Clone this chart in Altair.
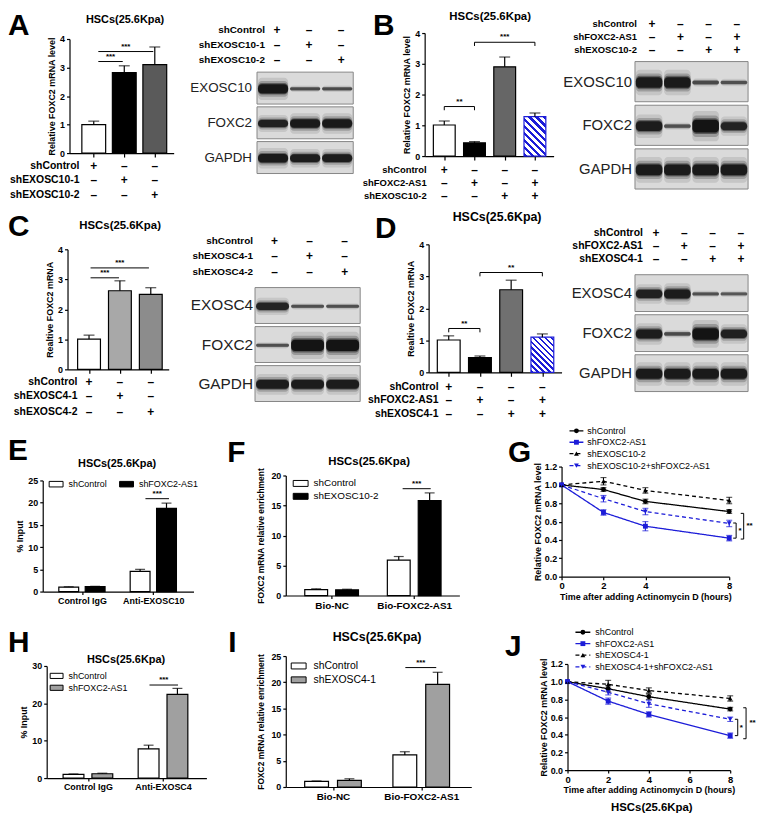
import altair as alt
import pandas as pd

FONT = "Liberation Sans"
BLUE = "#1c1cd8"
PLUS, DASH = "+", "\u2013"

# ---------------- data ----------------
A_rows = ["shControl", "shEXOSC10-1", "shEXOSC10-2"]
A_mean = [1.00, 2.82, 3.10]
A_sem = [0.12, 0.24, 0.62]
A_fill = ["white", "black", "#5a5a5a"]
A_prot = ["EXOSC10", "FOXC2", "GAPDH"]
A_blot = [[0.95, 0.35, 0.35], [0.80, 0.90, 0.90], [0.90, 0.85, 0.85]]

B_rows = ["shControl", "shFOXC2-AS1", "shEXOSC10-2"]
B_mean = [1.01, 0.43, 2.90, 1.28]
B_sem = [0.13, 0.04, 0.32, 0.12]
B_fill = ["white", "black", "#666666", "hatch"]
B_prot = ["EXOSC10", "FOXC2", "GAPDH"]
B_blot = [[0.90, 0.90, 0.35, 0.30], [0.85, 0.30, 1.00, 0.75], [0.90, 0.90, 0.90, 0.90]]

C_rows = ["shControl", "shEXOSC4-1", "shEXOSC4-2"]
C_mean = [1.01, 2.62, 2.50]
C_sem = [0.13, 0.33, 0.22]
C_fill = ["white", "#a8a8a8", "#8c8c8c"]
C_prot = ["EXOSC4", "FOXC2", "GAPDH"]
C_blot = [[0.75, 0.30, 0.30], [0.30, 1.00, 1.00], [0.85, 0.85, 0.85]]

D_rows = ["shControl", "shFOXC2-AS1", "shEXOSC4-1"]
D_mean = [1.01, 0.46, 2.58, 1.10]
D_sem = [0.13, 0.05, 0.30, 0.10]
D_fill = ["white", "black", "#707070", "hatch"]
D_prot = ["EXOSC4", "FOXC2", "GAPDH"]
D_blot = [[0.80, 0.85, 0.30, 0.25], [0.85, 0.35, 1.00, 0.80], [0.90, 0.90, 0.90, 0.90]]

design3 = [[PLUS, DASH, DASH], [DASH, PLUS, DASH], [DASH, DASH, PLUS]]
design4 = [[PLUS, DASH, DASH, DASH], [DASH, PLUS, DASH, PLUS], [DASH, DASH, PLUS, PLUS]]

E_groups = ["Control IgG", "Anti-EXOSC10"]
E_series = ["shControl", "shFOXC2-AS1"]
E_mean = [[1.00, 4.55], [1.10, 18.7]]
E_sem = [[0.08, 0.45], [0.08, 1.20]]

F_groups = ["Bio-NC", "Bio-FOXC2-AS1"]
F_series = ["shControl", "shEXOSC10-2"]
F_mean = [[1.00, 5.90], [0.95, 15.8]]
F_sem = [[0.12, 0.60], [0.10, 1.30]]

H_groups = ["Control IgG", "Anti-EXOSC4"]
H_series = ["shControl", "shFOXC2-AS1"]
H_mean = [[1.00, 7.80], [1.15, 22.4]]
H_sem = [[0.10, 1.00], [0.15, 1.60]]

I_groups = ["Bio-NC", "Bio-FOXC2-AS1"]
I_series = ["shControl", "shEXOSC4-1"]
I_mean = [[1.08, 6.13], [1.27, 19.6]]
I_sem = [[0.07, 0.60], [0.30, 2.30]]

T_hours = [0, 2, 4, 8]
G_series = ["shControl", "shFOXC2-AS1", "shEXOSC10-2", "shEXOSC10-2+shFOXC2-AS1"]
G_mean = [[1.0, 0.95, 0.82, 0.71], [1.0, 0.70, 0.55, 0.42],
          [1.0, 1.04, 0.94, 0.83], [1.0, 0.85, 0.71, 0.58]]
G_sem = [[0, 0.02, 0.025, 0.02], [0, 0.03, 0.05, 0.03],
         [0, 0.04, 0.03, 0.035], [0, 0.035, 0.035, 0.035]]
J_series = ["shControl", "shFOXC2-AS1", "shEXOSC4-1", "shEXOSC4-1+shFOXC2-AS1"]
J_mean = [[1.0, 0.92, 0.83, 0.69], [1.0, 0.78, 0.63, 0.39],
          [1.0, 0.97, 0.90, 0.81], [1.0, 0.88, 0.75, 0.575]]
J_sem = [[0, 0.035, 0.03, 0.02], [0, 0.035, 0.03, 0.03],
         [0, 0.045, 0.03, 0.03], [0, 0.03, 0.04, 0.025]]

TITLE = "HSCs(25.6Kpa)"

# ---------------- helpers ----------------
AX = dict(grid=False, domainColor="black", tickColor="black", labelColor="black",
          titleColor="black", labelFont=FONT, titleFont=FONT, labelFontWeight="bold",
          titleFontWeight="bold", domainWidth=1.2, tickWidth=1.2, labelFlush=False)


def geo(fx0, fy0, fx1, fy1, px, py, w, h):
    # frame (panel box) and plot rectangle, both in page pixels
    return dict(fx0=fx0, fy0=fy0, W=fx1 - fx0, H=fy1 - fy0,
                x0=px - fx0, y0=py - fy0, pw=w, ph=h)


def xr(g):
    return [g["x0"], g["x0"] + g["pw"]]


def yr(g):
    return [g["y0"] + g["ph"], g["y0"]]


def yax_offset(g):
    return -g["x0"]


def xax_offset(g):
    return -(g["H"] - g["y0"] - g["ph"])


def txt(g, s, px, py, size, weight="bold", align="left", baseline="alphabetic", color="black"):
    return alt.Chart(pd.DataFrame({"t": [s]})).mark_text(
        font=FONT, fontSize=size, fontWeight=weight, align=align, baseline=baseline,
        color=color).encode(text="t:N", x=alt.value(px - g["fx0"]), y=alt.value(py - g["fy0"]))


def letter(g, s, px, py):
    return txt(g, s, px, py, 30, baseline="top")


def panel(g, layers):
    return alt.layer(*layers).properties(width=g["W"], height=g["H"])


def hatch_gradient(w, h, n):
    r = h / w
    stops = []
    p = 1.0 / n
    for k in range(n):
        a, b, c = k * p, k * p + 0.45 * p, (k + 1) * p
        stops += [alt.GradientStop(color=BLUE, offset=a), alt.GradientStop(color=BLUE, offset=b),
                  alt.GradientStop(color="white", offset=b), alt.GradientStop(color="white", offset=c)]
    return alt.LinearGradient(gradient="linear", stops=stops, x1=0, y1=1, x2=1, y2=1 - r)


def bar_panel(g, means, sems, fills, dom, bw, ytitle, sig, brackets, rows, design,
              row_y, row_lx, row_font, title_xy, title_size, let, let_xy, ymax=4):
    n = len(means)
    df = pd.DataFrame({"i": list(range(n)), "m": means,
                       "top": [a + b for a, b in zip(means, sems)], "f": fills})
    xs = alt.Scale(domain=dom, range=xr(g), nice=False, zero=False)
    ys = alt.Scale(domain=[0, ymax], range=yr(g), nice=False)
    xax = alt.Axis(values=list(range(n)), labels=False, tickSize=4, title=None,
                   offset=xax_offset(g), **AX)
    yax = alt.Axis(values=list(range(ymax + 1)), title=ytitle, labelFontSize=9, titleFontSize=9,
                   tickSize=3, labelPadding=2, titlePadding=3, offset=yax_offset(g), **AX)

    def X(f):
        return alt.X(f, scale=xs, axis=xax)

    def Y(f):
        return alt.Y(f, scale=ys, axis=yax)

    layers = []
    plain = df[df.f != "hatch"]
    layers.append(alt.Chart(plain).mark_bar(size=bw, stroke="black", strokeWidth=1.2).encode(
        x=X("i:Q"), y=Y("m:Q"), fill=alt.Fill("f:N", scale=None)))
    for _, r in df[df.f == "hatch"].iterrows():
        hpx = r.m / ymax * g["ph"]
        grad = hatch_gradient(bw, hpx, 13)
        layers.append(alt.Chart(df[df.i == r.i]).mark_bar(
            size=bw, stroke=BLUE, strokeWidth=1.2, fill=grad).encode(x=X("i:Q"), y=Y("m:Q")))
    layers.append(alt.Chart(df).mark_rule(color="black", strokeWidth=1.2).encode(
        x=X("i:Q"), y=Y("m:Q"), y2="top:Q"))
    layers.append(alt.Chart(df).mark_tick(orient="horizontal", size=11, thickness=1.2,
                                          color="black").encode(x=X("i:Q"), y=Y("top:Q")))
    sdf = pd.DataFrame([dict(x1=a, x2=b, y=y, lab=l, xm=(a + b) / 2, ylow=y - 0.12)
                        for a, b, y, l in sig])
    layers.append(alt.Chart(sdf).mark_rule(color="black", strokeWidth=1).encode(
        x=X("x1:Q"), x2="x2:Q", y=Y("y:Q")))
    if brackets:
        ends = pd.DataFrame([dict(x=v, y=r.y, ylow=r.ylow) for _, r in sdf.iterrows()
                             for v in (r.x1, r.x2)])
        layers.append(alt.Chart(ends).mark_rule(color="black", strokeWidth=1).encode(
            x=X("x:Q"), y=Y("y:Q"), y2="ylow:Q"))
    layers.append(alt.Chart(sdf).mark_text(font=FONT, fontSize=8, fontWeight="bold",
                                           baseline="bottom", dy=-1).encode(
        x=X("xm:Q"), y=Y("y:Q"), text="lab:N"))
    # condition table under the bars
    tab = pd.DataFrame([dict(i=i, ry=row_y[k] - g["fy0"], s=design[k][i])
                        for k in range(len(rows)) for i in range(n)])
    layers.append(alt.Chart(tab).mark_text(font=FONT, fontSize=12, fontWeight="bold",
                                           baseline="middle").encode(
        x=X("i:Q"), y=alt.Y("ry:Q", scale=None, axis=None), text="s:N"))
    lab = pd.DataFrame({"ry": [y - g["fy0"] for y in row_y], "lab": rows})
    layers.append(alt.Chart(lab).mark_text(font=FONT, fontSize=row_font, fontWeight="bold",
                                           align="right", baseline="middle").encode(
        x=alt.value(row_lx - g["fx0"]), y=alt.Y("ry:Q", scale=None, axis=None), text="lab:N"))
    layers.append(txt(g, TITLE, title_xy[0], title_xy[1], title_size, align="center"))
    layers.append(letter(g, let, *let_xy))
    return panel(g, layers)


def blot_panel(g, prots, inten, rows, design, hdr_y, hdr_x, hdr_font, pfont, plab_x, hdx=0):
    n = len(inten[0])
    nr = len(prots)
    xs = alt.Scale(domain=[0.5, n + 0.5], range=xr(g), nice=False, zero=False)
    ys = alt.Scale(domain=[0, nr], range=[g["y0"], g["y0"] + g["ph"]], nice=False, zero=False)
    boxes = pd.DataFrame({"r": list(range(nr)), "p": prots})
    boxes["y0"] = boxes.r + 0.04
    boxes["y1"] = boxes.r + 0.96
    boxes["ym"] = boxes.r + 0.5
    boxes["x0"] = 0.5
    boxes["x1"] = n + 0.5

    def X(f):
        return alt.X(f, scale=xs, axis=None)

    def Y(f):
        return alt.Y(f, scale=ys, axis=None)

    layers = []
    layers.append(alt.Chart(boxes).mark_rect(fill="#dadada", stroke="#868686", strokeWidth=1).encode(
        x=X("x0:Q"), x2="x1:Q", y=Y("y0:Q"), y2="y1:Q"))
    recs = []
    for r in range(nr):
        for j in range(n):
            v = inten[r][j]
            th = 0.05 + 0.24 * v * v
            for f, o in ((2.4, 0.12), (1.7, 0.25), (1.25, 0.5), (1.0, 1.0)):
                recs.append(dict(x0=j + 1 - 0.47, x1=j + 1 + 0.47,
                                 y0=r + 0.52 - th * f / 2, y1=r + 0.52 + th * f / 2,
                                 op=(0.3 + 0.65 * v) * o))
    bands = pd.DataFrame(recs)
    layers.append(alt.Chart(bands).mark_rect(color="#111111", cornerRadius=4).encode(
        x=X("x0:Q"), x2="x1:Q", y=Y("y0:Q"), y2="y1:Q",
        opacity=alt.Opacity("op:Q", scale=None)))
    layers.append(alt.Chart(boxes).mark_text(font=FONT, fontSize=pfont, align="right",
                                             baseline="middle", color="#222222").encode(
        x=alt.value(plab_x - g["fx0"]), y=Y("ym:Q"), text="p:N"))
    tab = pd.DataFrame([dict(lane=i + 1, ry=hdr_y[k] - g["fy0"], s=design[k][i])
                        for k in range(len(rows)) for i in range(n)])
    layers.append(alt.Chart(tab).mark_text(font=FONT, fontSize=12, fontWeight="bold",
                                           baseline="middle", dx=hdx).encode(
        x=X("lane:Q"), y=alt.Y("ry:Q", scale=None, axis=None), text="s:N"))
    lab = pd.DataFrame({"ry": [y - g["fy0"] for y in hdr_y], "lab": rows})
    layers.append(alt.Chart(lab).mark_text(font=FONT, fontSize=hdr_font, fontWeight="bold",
                                           align="right", baseline="middle").encode(
        x=alt.value(hdr_x - g["fx0"]), y=alt.Y("ry:Q", scale=None, axis=None), text="lab:N"))
    return panel(g, layers)


RECT = "M-1,-0.4H1V0.4H-1Z"


def group_panel(g, key, groups, series, means, sems, colors, dom, d, bw, ymax, ystep, ytitle,
                ytpad, xfont, leg, sig, title_xy, title_size, let, let_xy):
    recs = []
    for si, s in enumerate(series):
        for gi in range(len(groups)):
            recs.append({key: s, "pos": gi + (2 * si - 1) * d, "m": means[si][gi],
                         "top": means[si][gi] + sems[si][gi]})
    df = pd.DataFrame(recs)
    xs = alt.Scale(domain=dom, range=xr(g), nice=False, zero=False)
    ys = alt.Scale(domain=[0, ymax], range=yr(g), nice=False)
    arr = "[" + ",".join("'" + s + "'" for s in groups) + "]"
    xax = alt.Axis(values=list(range(len(groups))), labelExpr=arr + "[datum.value]",
                   labelFontSize=xfont, tickSize=3, labelPadding=2, title=None,
                   offset=xax_offset(g), **AX)
    yax = alt.Axis(values=list(range(0, ymax + 1, ystep)), title=ytitle, labelFontSize=9,
                   titleFontSize=9 if len(ytitle) < 12 else 8.5, tickSize=3, labelPadding=2,
                   titlePadding=ytpad, offset=yax_offset(g), **AX)

    def X(f):
        return alt.X(f, scale=xs, axis=xax)

    def Y(f):
        return alt.Y(f, scale=ys, axis=yax)

    legend = alt.Legend(orient="none", legendX=g["x0"] + leg["x"], legendY=g["y0"] + leg["y"],
                        direction=leg["dir"], title=None, symbolType=RECT, symbolSize=leg["size"],
                        symbolStrokeColor="black", symbolStrokeWidth=1, labelFont=FONT,
                        labelFontSize=leg["font"], labelFontWeight="normal", labelColor="black",
                        rowPadding=leg.get("rp", 0), columnPadding=leg.get("cp", 10),
                        labelOffset=leg.get("lo", 5), padding=0, symbolOpacity=1)
    layers = []
    layers.append(alt.Chart(df).mark_bar(size=bw, stroke="black", strokeWidth=1.2, opacity=1).encode(
        x=X("pos:Q"), y=Y("m:Q"),
        color=alt.Color(key + ":N", scale=alt.Scale(domain=series, range=colors), legend=legend)))
    layers.append(alt.Chart(df).mark_rule(color="black", strokeWidth=1.2).encode(
        x=X("pos:Q"), y=Y("m:Q"), y2="top:Q"))
    layers.append(alt.Chart(df).mark_tick(orient="horizontal", size=10, thickness=1.2,
                                          color="black").encode(x=X("pos:Q"), y=Y("top:Q")))
    sdf = pd.DataFrame([dict(x1=sig[0], x2=sig[1], y=sig[2], xm=(sig[0] + sig[1]) / 2, lab="***")])
    layers.append(alt.Chart(sdf).mark_rule(color="black", strokeWidth=1).encode(
        x=X("x1:Q"), x2="x2:Q", y=Y("y:Q")))
    layers.append(alt.Chart(sdf).mark_text(font=FONT, fontSize=8, fontWeight="bold",
                                           baseline="bottom", dy=-1).encode(
        x=X("xm:Q"), y=Y("y:Q"), text="lab:N"))
    layers.append(txt(g, TITLE, title_xy[0], title_xy[1], title_size, align="center"))
    layers.append(letter(g, let, *let_xy))
    return panel(g, layers)


def line_panel(g, key, times, series, means, sems, xticks, leg_y, leg_seg, leg_tx, brackets,
               let, let_xy, bottom_title=None):
    cs = alt.Scale(domain=series, range=["black", BLUE, "black", BLUE])
    ds = alt.Scale(domain=series, range=[[1, 0], [1, 0], [4, 3], [4, 3]])
    ss = alt.Scale(domain=series, range=["circle", "square", "triangle-up", "triangle-down"])
    recs = []
    for si, s in enumerate(series):
        for ti, t in enumerate(times):
            m, e = means[si][ti], sems[si][ti]
            recs.append({key: s, "t": t, "m": m, "e": e, "lo": m - e, "hi": m + e})
    df = pd.DataFrame(recs)
    de = df[df.e > 0]
    xs = alt.Scale(domain=[0, 8], range=xr(g), nice=False, zero=False)
    ys = alt.Scale(domain=[0, 1.2], range=yr(g), nice=False)
    xax = alt.Axis(values=xticks, title="Time after adding Actinomycin D (hours)", format="d",
                   labelFontSize=9.5, titleFontSize=9, tickSize=3, labelPadding=1, titlePadding=2,
                   offset=xax_offset(g), **AX)
    yax = alt.Axis(values=[0, 0.2, 0.4, 0.6, 0.8, 1.0, 1.2], format=".1f",
                   title="Relative FOXC2 mRNA level", labelFontSize=9, titleFontSize=9,
                   tickSize=3, labelPadding=2, titlePadding=2, offset=yax_offset(g), **AX)

    def X(f):
        return alt.X(f, scale=xs, axis=xax)

    def Y(f):
        return alt.Y(f, scale=ys, axis=yax)

    C = alt.Color(key + ":N", scale=cs, legend=None)
    SD = alt.StrokeDash(key + ":N", scale=ds, legend=None)
    SH = alt.Shape(key + ":N", scale=ss, legend=None)
    layers = []
    layers.append(alt.Chart(df).mark_line(strokeWidth=1.3).encode(
        x=X("t:Q"), y=Y("m:Q"), color=C, strokeDash=SD))
    layers.append(alt.Chart(de).mark_rule(strokeWidth=1.1).encode(
        x=X("t:Q"), y=Y("lo:Q"), y2="hi:Q", color=C))
    for f in ("lo", "hi"):
        layers.append(alt.Chart(de).mark_tick(orient="horizontal", size=6, thickness=1.1).encode(
            x=X("t:Q"), y=Y(f + ":Q"), color=C))
    layers.append(alt.Chart(df).mark_point(filled=True, size=24, opacity=1).encode(
        x=X("t:Q"), y=Y("m:Q"), color=C, shape=SH))
    # legend (line segment + marker + label)
    ldf = pd.DataFrame({key: series, "ry": [y - g["fy0"] for y in leg_y]})
    a, b = leg_seg
    layers.append(alt.Chart(ldf).mark_rule(strokeWidth=1.3).encode(
        x=alt.value(a - g["fx0"]), x2=alt.value(b - g["fx0"]),
        y=alt.Y("ry:Q", scale=None, axis=None), color=C, strokeDash=SD))
    layers.append(alt.Chart(ldf).mark_point(filled=True, size=24, opacity=1).encode(
        x=alt.value((a + b) / 2 - g["fx0"]), y=alt.Y("ry:Q", scale=None, axis=None),
        color=C, shape=SH))
    layers.append(alt.Chart(ldf).mark_text(font=FONT, fontSize=9, align="left",
                                           baseline="middle", color="black").encode(
        x=alt.value(leg_tx - g["fx0"]), y=alt.Y("ry:Q", scale=None, axis=None), text=key + ":N"))
    # significance brackets
    v = pd.DataFrame([dict(x=bx, x0=bx - 0.14, y1=y1, y2=y2, tx=tx, ty=ty, lab=l)
                      for bx, y1, y2, l, tx, ty in brackets])
    layers.append(alt.Chart(v).mark_rule(color="black", strokeWidth=1).encode(
        x=X("x:Q"), y=Y("y1:Q"), y2="y2:Q"))
    for f in ("y1", "y2"):
        layers.append(alt.Chart(v).mark_rule(color="black", strokeWidth=1).encode(
            x=X("x0:Q"), x2="x:Q", y=Y(f + ":Q")))
    layers.append(alt.Chart(v).mark_text(font=FONT, fontSize=8, fontWeight="bold",
                                         baseline="middle").encode(
        x=X("tx:Q"), y=Y("ty:Q"), text="lab:N"))
    layers.append(letter(g, let, *let_xy))
    if bottom_title:
        layers.append(txt(g, TITLE, bottom_title[0], bottom_title[1], 11.5, align="center",
                          baseline="middle"))
    return panel(g, layers)


# ---------------- panels (frame box, plot box in page pixels) ----------------
gA = geo(8, 8, 190, 206, 70, 36, 105, 115)
pA = bar_panel(gA, A_mean, A_sem, A_fill, [-0.632, 2.456], 24, "Relative FOXC2 mRNA level",
               [(0.15, 0.95, 3.21, "***"), (0.15, 1.95, 3.56, "***")], False,
               A_rows, design3, [164, 178, 193], 80, 10.5, (126, 20), 11, "A", (8, 8))
gAb = geo(190, 8, 362, 206, 259, 68, 97, 105)
pAb = blot_panel(gAb, A_prot, A_blot, A_rows, design3, [27, 42, 57], 267, 10, 13.5, 254, hdx=4)

gB = geo(362, 8, 566, 206, 428, 30, 130, 124)
pB = bar_panel(gB, B_mean, B_sem, B_fill, [-0.485, 3.455], 22, "Relative FOXC2 mRNA level",
               [(0, 1, 1.61, "**"), (1, 3, 3.70, "***")], True,
               B_rows, design4, [168, 181, 194], 430, 9.5, (494, 17), 11.5, "B", (376, 8))
gBb = geo(566, 8, 756, 206, 640, 57, 114, 132)
pBb = blot_panel(gBb, B_prot, B_blot, B_rows, design4, [21, 34, 47], 642, 9.5, 15, 637, hdx=3)

gC = geo(8, 206, 190, 424, 68, 248, 102, 121)
pC = bar_panel(gC, C_mean, C_sem, C_fill, [-0.536, 2.42], 23, "Realtive FOXC2 mRNA",
               [(0.05, 0.97, 3.05, "***"), (0.05, 1.94, 3.38, "***")], False,
               C_rows, design3, [382, 396, 412], 78, 10.5, (121, 228), 11.5, "C", (8, 211))
gCb = geo(190, 206, 368, 424, 257, 285, 106, 118)
pCb = blot_panel(gCb, C_prot, C_blot, C_rows, design3, [240, 255, 271], 255, 10, 15.5, 255, hdx=2)

gD = geo(368, 206, 566, 424, 432, 243, 134, 129)
pD = bar_panel(gD, D_mean, D_sem, D_fill, [-0.485, 3.456], 23, "Realtive FOXC2 mRNA",
               [(0, 1, 1.37, "**"), (1, 3, 3.12, "**")], True,
               D_rows, design4, [387, 400, 414], 442, 10.5, (501, 219), 12.5, "D", (378, 213))
gDb = geo(566, 206, 756, 424, 640, 272, 114, 121)
pDb = blot_panel(gDb, D_prot, D_blot, D_rows, design4, [232, 245, 258], 648, 10.5, 15, 637, hdx=7)

gE = geo(8, 424, 226, 620, 43, 481, 152, 112)
pE = group_panel(gE, "sE", E_groups, E_series, E_mean, E_sem, ["white", "black"],
                 [-0.48, 1.494], 0.185, 20, 25, 5, "% Input", 3, 9,
                 dict(x=6, y=-4, dir="horizontal", size=196, font=9, cp=10),
                 (0.89, 1.22, 20.9), (118, 467), 11, "E", (8, 436))
gF = geo(226, 424, 500, 620, 288, 476, 175, 121)
pF = group_panel(gF, "sF", F_groups, F_series, F_mean, F_sem, ["white", "black"],
                 [-0.495, 1.487], 0.187, 23, 20, 5, "FOXC2 mRNA relative enrichment", 5, 10,
                 dict(x=7, y=0, dir="vertical", size=225, font=10, rp=0),
                 (0.86, 1.2, 17.8), (372, 465), 11.5, "F", (229, 438))
gG = geo(500, 424, 756, 620, 566, 467, 169, 111)
pG = line_panel(gG, "sG", T_hours, G_series, G_mean, G_sem, [0, 2, 4, 8],
                [431, 442.5, 454, 466], (574, 588), 592,
                [(8.33, 0.42, 0.585, "*", 8.52, 0.50), (8.69, 0.41, 0.69, "**", 8.97, 0.55)],
                "G", (512, 438))

gH = geo(8, 620, 226, 812, 47, 668, 161, 113)
pH = group_panel(gH, "sH", H_groups, H_series, H_mean, H_sem, ["white", "#a0a0a0"],
                 [-0.483, 1.512], 0.192, 21, 30, 10, "% Input", 3, 9,
                 dict(x=3, y=3, dir="vertical", size=169, font=9, rp=-1),
                 (0.82, 1.2, 24.9), (127, 665), 11, "H", (8, 630))
gI = geo(226, 620, 500, 812, 288, 658, 187, 132)
pI = group_panel(gI, "sI", I_groups, I_series, I_mean, I_sem, ["white", "#a0a0a0"],
                 [-0.479, 1.511], 0.186, 24, 25, 5, "FOXC2 mRNA relative enrichment", 5, 10,
                 dict(x=5, y=2, dir="vertical", size=225, font=10.5, rp=0, lo=7),
                 (0.82, 1.17, 22.8), (380, 643), 12.5, "I", (230, 630))
gJ = geo(500, 620, 756, 812, 572, 666, 164, 107)
pJ = line_panel(gJ, "sJ", T_hours, J_series, J_mean, J_sem, [0, 2, 4, 6, 8],
                [634, 645.5, 657, 669], (580, 595), 600,
                [(8.37, 0.39, 0.575, "*", 8.55, 0.48), (8.78, 0.355, 0.705, "**", 9.1, 0.53)],
                "J", (509, 634), bottom_title=(657, 811))

RES = dict(color="independent", shape="independent", strokeDash="independent")
row1 = alt.hconcat(pA, pAb, pB, pBb, spacing=0).resolve_scale(**RES)
row2 = alt.hconcat(pC, pCb, pD, pDb, spacing=0).resolve_scale(**RES)
row3 = alt.hconcat(pE, pF, pG, spacing=0).resolve_scale(**RES)
row4 = alt.hconcat(pH, pI, pJ, spacing=0).resolve_scale(**RES)

chart = alt.vconcat(row1, row2, row3, row4, spacing=0).resolve_scale(**RES).properties(
    padding=0, background="white").configure_view(stroke=None)

chart.save("out.html", embed_options={"renderer": "svg", "actions": False})
